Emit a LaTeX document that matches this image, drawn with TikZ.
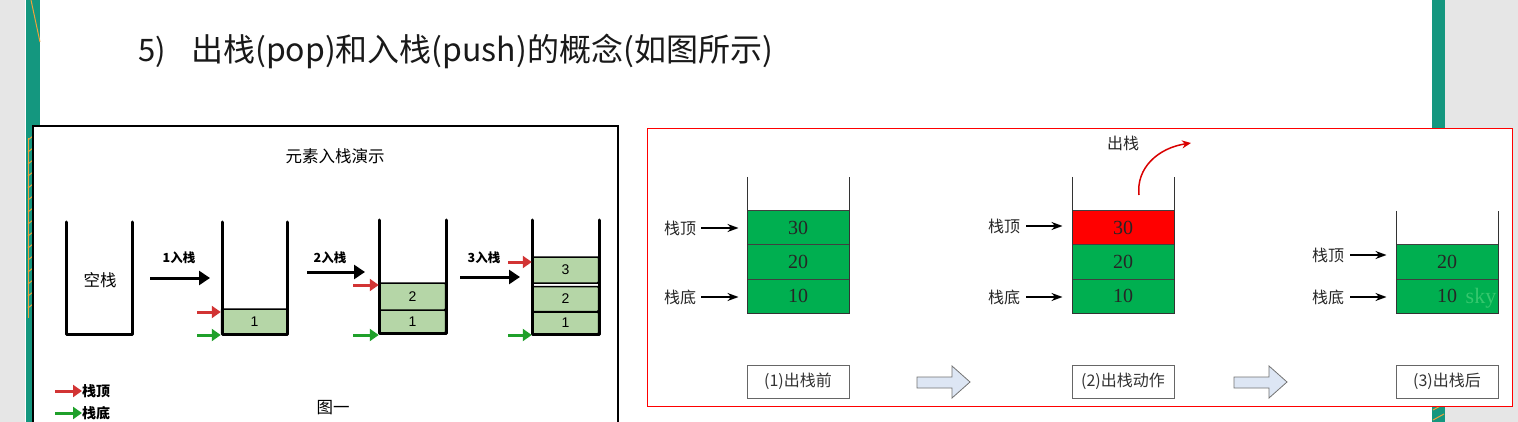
\documentclass[tikz,border=0pt]{standalone}
\usepackage{fontspec}
\setmainfont{Liberation Serif}
\newfontfamily\cjk{Noto Sans CJK SC}
\newfontfamily\arialf{Liberation Sans}
\newfontfamily\serf{Liberation Serif}
\usetikzlibrary{arrows.meta,calc}
\definecolor{bggray}{HTML}{E6E6E6}
\definecolor{tealA}{HTML}{14977F}
\definecolor{orng}{HTML}{EFA23A}
\definecolor{lgreen}{HTML}{B5D6A7}
\definecolor{rarr}{HTML}{D23434}
\definecolor{garr}{HTML}{1FA02A}
\definecolor{sgreen}{HTML}{00AF50}
\definecolor{sred}{HTML}{FF0000}
\definecolor{barrowfill}{HTML}{DDE6F4}
\tikzset{
  wall/.style={line width=3pt, line cap=round, line join=round},
  lel/.style={draw=black, line width=1.5pt, fill=lgreen, minimum width=66pt, inner sep=0pt, rounded corners=1pt, font=\arialf\fontsize{14}{14}\selectfont},
  pusharr/.style={line width=3pt, -{Triangle[length=11pt,width=14pt]}},
  redarr/.style={line width=3pt, rarr, -{Triangle[length=9pt,width=12pt]}},
  grnarr/.style={line width=3pt, garr, -{Triangle[length=9pt,width=12pt]}},
  pushlbl/.style={font=\cjk\bfseries\fontsize{12.5}{12.5}\selectfont, inner sep=0pt},
  legl/.style={font=\cjk\bfseries\fontsize{14}{14}\selectfont, inner sep=0pt, anchor=west},
  wallr/.style={line width=1pt, draw=black!80},
  rel/.style={draw=black!75, line width=1pt, fill=sgreen, minimum width=102pt, minimum height=34pt, inner sep=0pt, font=\serf\fontsize{20}{20}\selectfont, text=black!85},
  rlbl/.style={font=\cjk\fontsize{16}{16}\selectfont, text=black!85, inner sep=0pt},
  ptrarr/.style={line width=1.5pt, -{Stealth[length=11pt,width=8pt]}},
  capbox/.style={draw=black!60, line width=1pt, minimum width=102pt, minimum height=33pt, inner sep=0pt, font=\cjk\fontsize{16}{16}\selectfont, text=black!80},
  blockarr/.style={draw=black!55, line width=0.8pt, fill=barrowfill, line join=miter}
}
\begin{document}
\begin{tikzpicture}[x=1pt,y=-1pt]
\useasboundingbox (0,0) rectangle (1518,422);
% background
\fill[bggray] (0,0) rectangle (1518,422);
\fill[white] (40,0) rectangle (1432,422);
\fill[tealA] (26,0) rectangle (40,422);
\fill[tealA] (1432,0) rectangle (1445,422);
\draw[white, line width=1pt] (25.5,0) -- (25.5,422);
\draw[orng, line width=1pt] (31,0) -- (40,42);
\foreach \yy in {140,152,164,176,188,200,212,224,236,248,260,272,284,296,308}
  \draw[orng, line width=0.9pt] (28,\yy) -- (38,\yy-8);
\draw[orng, line width=1pt] (28,138) -- (28,318);
\foreach \yy in {404,414}
  \draw[orng, line width=1pt] (1433,\yy+6) -- (1444,\yy);

% title
\node[anchor=base west, inner sep=0pt, font=\cjk\fontsize{31}{31}\selectfont, text=black!90] (ttl5) at (138,62) {5)};
\node[anchor=base west, inner sep=0pt, font=\cjk\fontsize{32}{32}\selectfont, text=black!90] (ttl) at (191,62) {出栈(pop)和入栈(push)的概念(如图所示)};

% ===== left panel =====
\fill[white] (33,126) rectangle (618,440);
\draw[line width=1.5pt] (33,440) -- (33,126) -- (618,126) -- (618,440);
\node[font=\cjk\fontsize{16.5}{16.5}\selectfont, inner sep=0pt] (lt) at (335,156) {元素入栈演示};

% empty stack
\draw[wall] (66,222) -- (66,334) -- (132,334) -- (132,222);
\node[font=\cjk\fontsize{16.5}{16.5}\selectfont, inner sep=0pt] (e0) at (100,280) {空栈};

% push 1
\node[pushlbl] (p1) at (179,258) {1入栈};
\coordinate (p1s) at (150,278); \coordinate (p1e) at (210,278);
\draw[pusharr] (p1s) -- (p1e);

% stack 2
\node[lel, minimum height=25pt] (s2a) at (254.5,321.5) {1};
\draw[wall] (222,222) -- (222,334) -- (287,334) -- (287,222);
\coordinate (r2) at (197,312); \coordinate (g2) at (197,335);
\draw[redarr] (r2) -- (r2 -| s2a.west);
\draw[grnarr] (g2) -- (g2 -| s2a.west);

% push 2
\node[pushlbl] (p2) at (330,258) {2入栈};
\coordinate (p2s) at (307,272); \coordinate (p2e) at (365,272);
\draw[pusharr] (p2s) -- (p2e);

% stack 3
\node[lel, minimum height=23pt] (s3a) at (412.5,321.5) {1};
\node[lel, minimum height=27pt] (s3b) at (412.5,296.5) {2};
\draw[wall] (379,220) -- (379,333) -- (446,333) -- (446,220);
\coordinate (r3) at (353,285); \coordinate (g3) at (353,335);
\draw[redarr] (r3) -- (r3 -| s3b.west);
\draw[grnarr] (g3) -- (g3 -| s3a.west);

% push 3
\node[pushlbl] (p3) at (484,258) {3入栈};
\coordinate (p3s) at (460,277); \coordinate (p3e) at (520,277);
\draw[pusharr] (p3s) -- (p3e);

% stack 4
\node[lel, minimum height=22pt] (s4a) at (565.5,323) {1};
\node[lel, minimum height=25pt] (s4b) at (565.5,299) {2};
\node[lel, minimum height=26pt] (s4c) at (565.5,270) {3};
\draw[wall] (532,220) -- (532,334) -- (599,334) -- (599,220);
\coordinate (r4) at (508,262); \coordinate (g4) at (508,335);
\draw[redarr] (r4) -- (r4 -| s4c.west);
\draw[grnarr] (g4) -- (g4 -| s4a.west);

% legend
\node[legl] (lgt) at (82,391) {栈顶};
\node[legl] (lgb) at (82,413) {栈底};
\coordinate (lgtr) at (55,391); \coordinate (lgbr) at (55,413);
\draw[redarr] (lgtr) -- (lgt.west);
\draw[grnarr] (lgbr) -- (lgb.west);
\node[font=\cjk\fontsize{16.5}{16.5}\selectfont, inner sep=0pt] (fig1) at (333,408) {图一};

% ===== right panel =====
\draw[sred, line width=1pt, fill=white] (647,129) rectangle (1512,406);

% stack A
\node[rel] (A30) at (798,228) {30};
\node[rel] (A20) at (798,262) {20};
\node[rel] (A10) at (798,296) {10};
\draw[wallr] (747,177) -- (747,313) -- (849,313) -- (849,177);
\node[rlbl] (tA) at (680,228) {栈顶};
\node[rlbl] (bA) at (680,297) {栈底};
\draw[ptrarr, shorten <=5pt, shorten >=8pt] (tA.east) -- (tA.east -| A30.west);
\draw[ptrarr, shorten <=5pt, shorten >=8pt] (bA.east) -- (bA.east -| A10.west);
\node[capbox] (cA) at (798,381.5) {(1)出栈前};

% block arrow 1
\draw[blockarr] (917,377) -- (952,377) -- (952,366) -- (970,382) -- (952,398) -- (952,388) -- (917,388) -- cycle;

% stack B
\node[rel, fill=sred] (B30) at (1123,228) {30};
\node[rel] (B20) at (1123,262) {20};
\node[rel] (B10) at (1123,296) {10};
\draw[wallr] (1072,177) -- (1072,313) -- (1174,313) -- (1174,177);
\node[rlbl] (tB) at (1004,226) {栈顶};
\node[rlbl] (bB) at (1004,297) {栈底};
\draw[ptrarr, shorten <=6pt, shorten >=9pt] (tB.east) -- (tB.east -| B30.west);
\draw[ptrarr, shorten <=6pt, shorten >=9pt] (bB.east) -- (bB.east -| B10.west);
\node[rlbl] (popl) at (1123,143) {出栈};
\coordinate (pops) at (1139,195); \coordinate (pope) at (1191,143);
\draw[sred!85!black, line width=1.5pt, -{Stealth[length=9pt,width=8pt]}] (pops) .. controls (1136,168) and (1158,148) .. (pope);
\node[capbox] (cB) at (1123,381.5) {(2)出栈动作};

% block arrow 2
\draw[blockarr] (1234,377) -- (1269,377) -- (1269,366) -- (1287,382) -- (1269,398) -- (1269,388) -- (1234,388) -- cycle;

% stack C
\node[rel] (C20) at (1447,262) {20};
\node[rel] (C10) at (1447,296) {10};
\draw[wallr] (1396,211) -- (1396,313) -- (1498,313) -- (1498,211);
\node[rlbl] (tC) at (1328,255) {栈顶};
\node[rlbl] (bC) at (1328,297) {栈底};
\draw[ptrarr, shorten <=6pt, shorten >=9pt] (tC.east) -- (tC.east -| C20.west);
\draw[ptrarr, shorten <=6pt, shorten >=9pt] (bC.east) -- (bC.east -| C10.west);
\node[capbox] (cC) at (1447,381.5) {(3)出栈后};
\node[font=\serf\fontsize{22}{22}\selectfont, text=green!30!white, opacity=0.3, inner sep=0pt] (wm) at (1481,298) {sky};
\end{tikzpicture}
\end{document}
